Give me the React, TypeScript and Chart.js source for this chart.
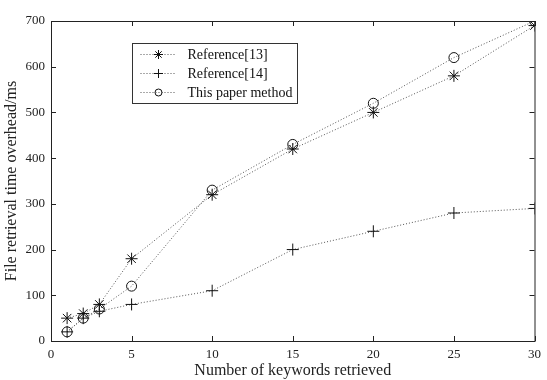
import React, { useEffect, useRef } from 'react';
import { Chart, registerables } from 'chart.js';
Chart.register(...registerables);

const keywords = [1, 2, 3, 5, 10, 15, 20, 25, 30];
const ref13 = [50, 60, 80, 180, 320, 420, 500, 580, 690];
const ref14 = [20, 50, 65, 80, 110, 200, 240, 280, 290];
const thisPaper = [20, 50, 70, 120, 330, 430, 520, 620, 700];
const seriesNames = ['Reference[13]', 'Reference[14]', 'This paper method'];
const seriesStyles = ['star', 'cross', 'circle'];
const xTicks = [0, 5, 10, 15, 20, 25, 30];
const yTicks = [0, 100, 200, 300, 400, 500, 600, 700];
const xTitle = 'Number of keywords retrieved';
const yTitle = 'File retrieval time overhead/ms';

const FONT = "'Liberation Serif', 'Times New Roman', serif";
const LINE_COLOR = '#555';

function drawMarker(ctx: CanvasRenderingContext2D, style: string, x: number, y: number, r: number) {
  ctx.beginPath();
  if (style === 'circle') {
    ctx.arc(x, y, r, 0, Math.PI * 2);
  } else {
    const angles = style === 'star' ? [0, 45, 90, 135] : [0, 90];
    for (const a of angles) {
      const rad = (a * Math.PI) / 180;
      ctx.moveTo(x - Math.cos(rad) * r, y - Math.sin(rad) * r);
      ctx.lineTo(x + Math.cos(rad) * r, y + Math.sin(rad) * r);
    }
  }
  ctx.stroke();
}

const framePlugin = {
  id: 'frame',
  afterDraw(chart: any) {
    const ctx: CanvasRenderingContext2D = chart.ctx;
    const { left, right, top, bottom } = chart.chartArea;
    const xs = chart.scales.x;
    const ys = chart.scales.y;
    ctx.save();
    ctx.strokeStyle = '#222';
    ctx.lineWidth = 1;
    ctx.strokeRect(left + 0.5, top + 0.5, right - left, bottom - top);
    const tl = 5;
    ctx.beginPath();
    for (const v of xTicks) {
      const px = Math.round(xs.getPixelForValue(v)) + 0.5;
      ctx.moveTo(px, bottom);
      ctx.lineTo(px, bottom - tl);
      ctx.moveTo(px, top);
      ctx.lineTo(px, top + tl);
    }
    for (const v of yTicks) {
      const py = Math.round(ys.getPixelForValue(v)) + 0.5;
      ctx.moveTo(left, py);
      ctx.lineTo(left + tl, py);
      ctx.moveTo(right, py);
      ctx.lineTo(right - tl, py);
    }
    ctx.stroke();

    // legend
    const bx = 132.5, by = 43.5, bw = 165, bh = 60;
    ctx.fillStyle = '#fff';
    ctx.fillRect(bx, by, bw, bh);
    ctx.strokeStyle = '#333';
    ctx.strokeRect(bx, by, bw, bh);
    ctx.font = `14px ${FONT}`;
    ctx.textBaseline = 'middle';
    ctx.textAlign = 'left';
    seriesNames.forEach((name, i) => {
      const y = by + 11 + i * 19;
      ctx.strokeStyle = LINE_COLOR;
      ctx.setLineDash([1, 2]);
      ctx.beginPath();
      ctx.moveTo(bx + 8, y);
      ctx.lineTo(bx + 43, y);
      ctx.stroke();
      ctx.setLineDash([]);
      ctx.strokeStyle = '#111';
      drawMarker(ctx, seriesStyles[i], bx + 26, y, seriesStyles[i] === 'circle' ? 3.5 : 4.5);
      ctx.fillStyle = '#111';
      ctx.fillText(name, bx + 55, y + 1);
    });
    ctx.restore();
  },
};

export default function App() {
  const ref = useRef<HTMLCanvasElement | null>(null);
  useEffect(() => {
    document.body.style.margin = '0';
    const datasets = [ref13, ref14, thisPaper].map((vals, i) => ({
      label: seriesNames[i],
      data: keywords.map((k, j) => ({ x: k, y: vals[j] })),
      borderColor: LINE_COLOR,
      borderWidth: 1,
      borderDash: [1, 2],
      pointStyle: seriesStyles[i] as any,
      pointRadius: seriesStyles[i] === 'circle' ? 5 : 6,
      pointBorderColor: '#111',
      pointBackgroundColor: 'rgba(0,0,0,0)',
      pointBorderWidth: 1,
      fill: false,
      tension: 0,
    }));
    const chart = new Chart(ref.current as HTMLCanvasElement, {
      type: 'line',
      data: { datasets },
      plugins: [framePlugin],
      options: {
        animation: false,
        responsive: true,
        maintainAspectRatio: false,
        layout: { padding: { top: 21, right: 7, bottom: 0, left: 0 } },
        plugins: { legend: { display: false }, tooltip: { enabled: false } },
        scales: {
          x: {
            type: 'linear',
            min: 0,
            max: 30,
            grid: { display: false, drawTicks: false },
            border: { display: false },
            afterBuildTicks: (s: any) => { s.ticks = xTicks.map((v) => ({ value: v })); },
            afterFit: (s: any) => { s.height = 39; },
            ticks: { font: { family: FONT, size: 13 }, color: '#222', padding: 6, maxRotation: 0 },
            title: { display: true, text: xTitle, font: { family: FONT, size: 16 }, color: '#222', padding: { top: 0, bottom: 0 } },
          },
          y: {
            type: 'linear',
            min: 0,
            max: 700,
            grid: { display: false, drawTicks: false },
            border: { display: false },
            afterBuildTicks: (s: any) => { s.ticks = yTicks.map((v) => ({ value: v })); },
            afterFit: (s: any) => { s.width = 51; },
            ticks: { font: { family: FONT, size: 13 }, color: '#222', padding: 6 },
            title: { display: true, text: yTitle, font: { family: FONT, size: 16 }, color: '#222', padding: { top: 2, bottom: 0 } },
          },
        },
      },
    });
    return () => chart.destroy();
  }, []);
  return (
    <div style={{ position: 'absolute', left: 0, top: 0, width: 547, height: 380, background: '#fff' }}>
      <canvas ref={ref} />
    </div>
  );
}
